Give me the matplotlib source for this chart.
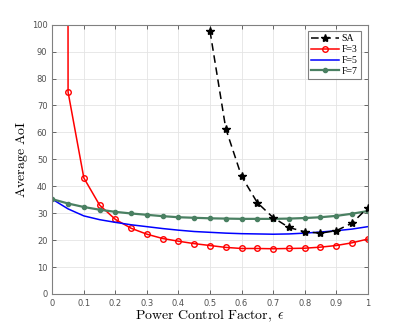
import numpy as np
import matplotlib
matplotlib.use("Agg")
import matplotlib.pyplot as plt

plt.rcParams['mathtext.fontset'] = 'cm'

# x grid for all curves
eps = np.round(np.arange(0, 1.0001, 0.05), 2)

# SA curve only defined from 0.5 upwards
eps_sa = [0.5, 0.55, 0.6, 0.65, 0.7, 0.75, 0.8, 0.85, 0.9, 0.95, 1.0]
aoi_sa = [97.6, 61.4, 43.7, 33.9, 28.4, 24.7, 23.1, 22.6, 23.5, 26.3, 32.0]

aoi_f3 = [10000, 75.0, 43.1, 33.0, 27.7, 24.4, 22.2, 20.6, 19.6, 18.7, 18.0,
          17.3, 16.9, 16.9, 16.8, 16.9, 17.0, 17.4, 18.0, 19.0, 20.4]
aoi_f5 = [35.2, 31.6, 29.0, 27.6, 26.6, 25.7, 25.0, 24.3, 23.7, 23.2, 22.9,
          22.6, 22.4, 22.3, 22.2, 22.3, 22.6, 23.0, 23.5, 24.1, 25.0]
aoi_f7 = [35.2, 33.6, 32.3, 31.3, 30.5, 29.9, 29.4, 28.9, 28.5, 28.3, 28.1,
          28.0, 27.9, 27.9, 27.9, 28.0, 28.2, 28.5, 29.0, 29.8, 30.8]

fig = plt.figure(figsize=(4.07, 3.31), dpi=100)
ax = fig.add_axes([0.1285, 0.1118, 0.775, 0.8136])

ax.plot(eps_sa, aoi_sa, 'k--*', lw=1.1, ms=6, dashes=(5, 3), label='SA', zorder=5)
ax.plot(eps, aoi_f3, '-o', color='red', lw=1.1, ms=4, mfc='none', mew=1.0, label='F=3')
ax.plot(eps, aoi_f5, '-', color='blue', lw=1.1, label='F=5')
ax.plot(eps, aoi_f7, '-o', color='#4a8062', lw=1.6, ms=3.0, label='F=7')

ax.set_xlim(0, 1)
ax.set_ylim(0, 100)
ax.set_xticks(np.arange(0, 1.01, 0.1))
ax.set_xticklabels(['0', '0.1', '0.2', '0.3', '0.4', '0.5', '0.6', '0.7', '0.8', '0.9', '1'])
ax.set_yticks(np.arange(0, 101, 10))
ax.tick_params(direction='in', top=True, right=True, labelsize=6, colors='#505050',
               length=3, width=0.6)
ax.grid(True, color='#e4e4e4', lw=0.6)
for s in ax.spines.values():
    s.set_color('#808080')
    s.set_linewidth(0.8)

ax.set_xlabel(r'$\mathrm{Power\ Control\ Factor},\ \epsilon$', fontsize=10, labelpad=0)
ax.set_ylabel(r'$\mathrm{Average\ AoI}$', fontsize=10, labelpad=1)

leg = ax.legend(loc='upper right', prop={'family': 'Liberation Serif', 'size': 7},
                fancybox=False, edgecolor='#606060', handlelength=2.8,
                borderpad=0.35, labelspacing=0.2, handletextpad=0.3,
                borderaxespad=0, bbox_to_anchor=(0.978, 0.978))
leg.get_frame().set_linewidth(0.8)

fig.savefig('out.png', dpi=100)
